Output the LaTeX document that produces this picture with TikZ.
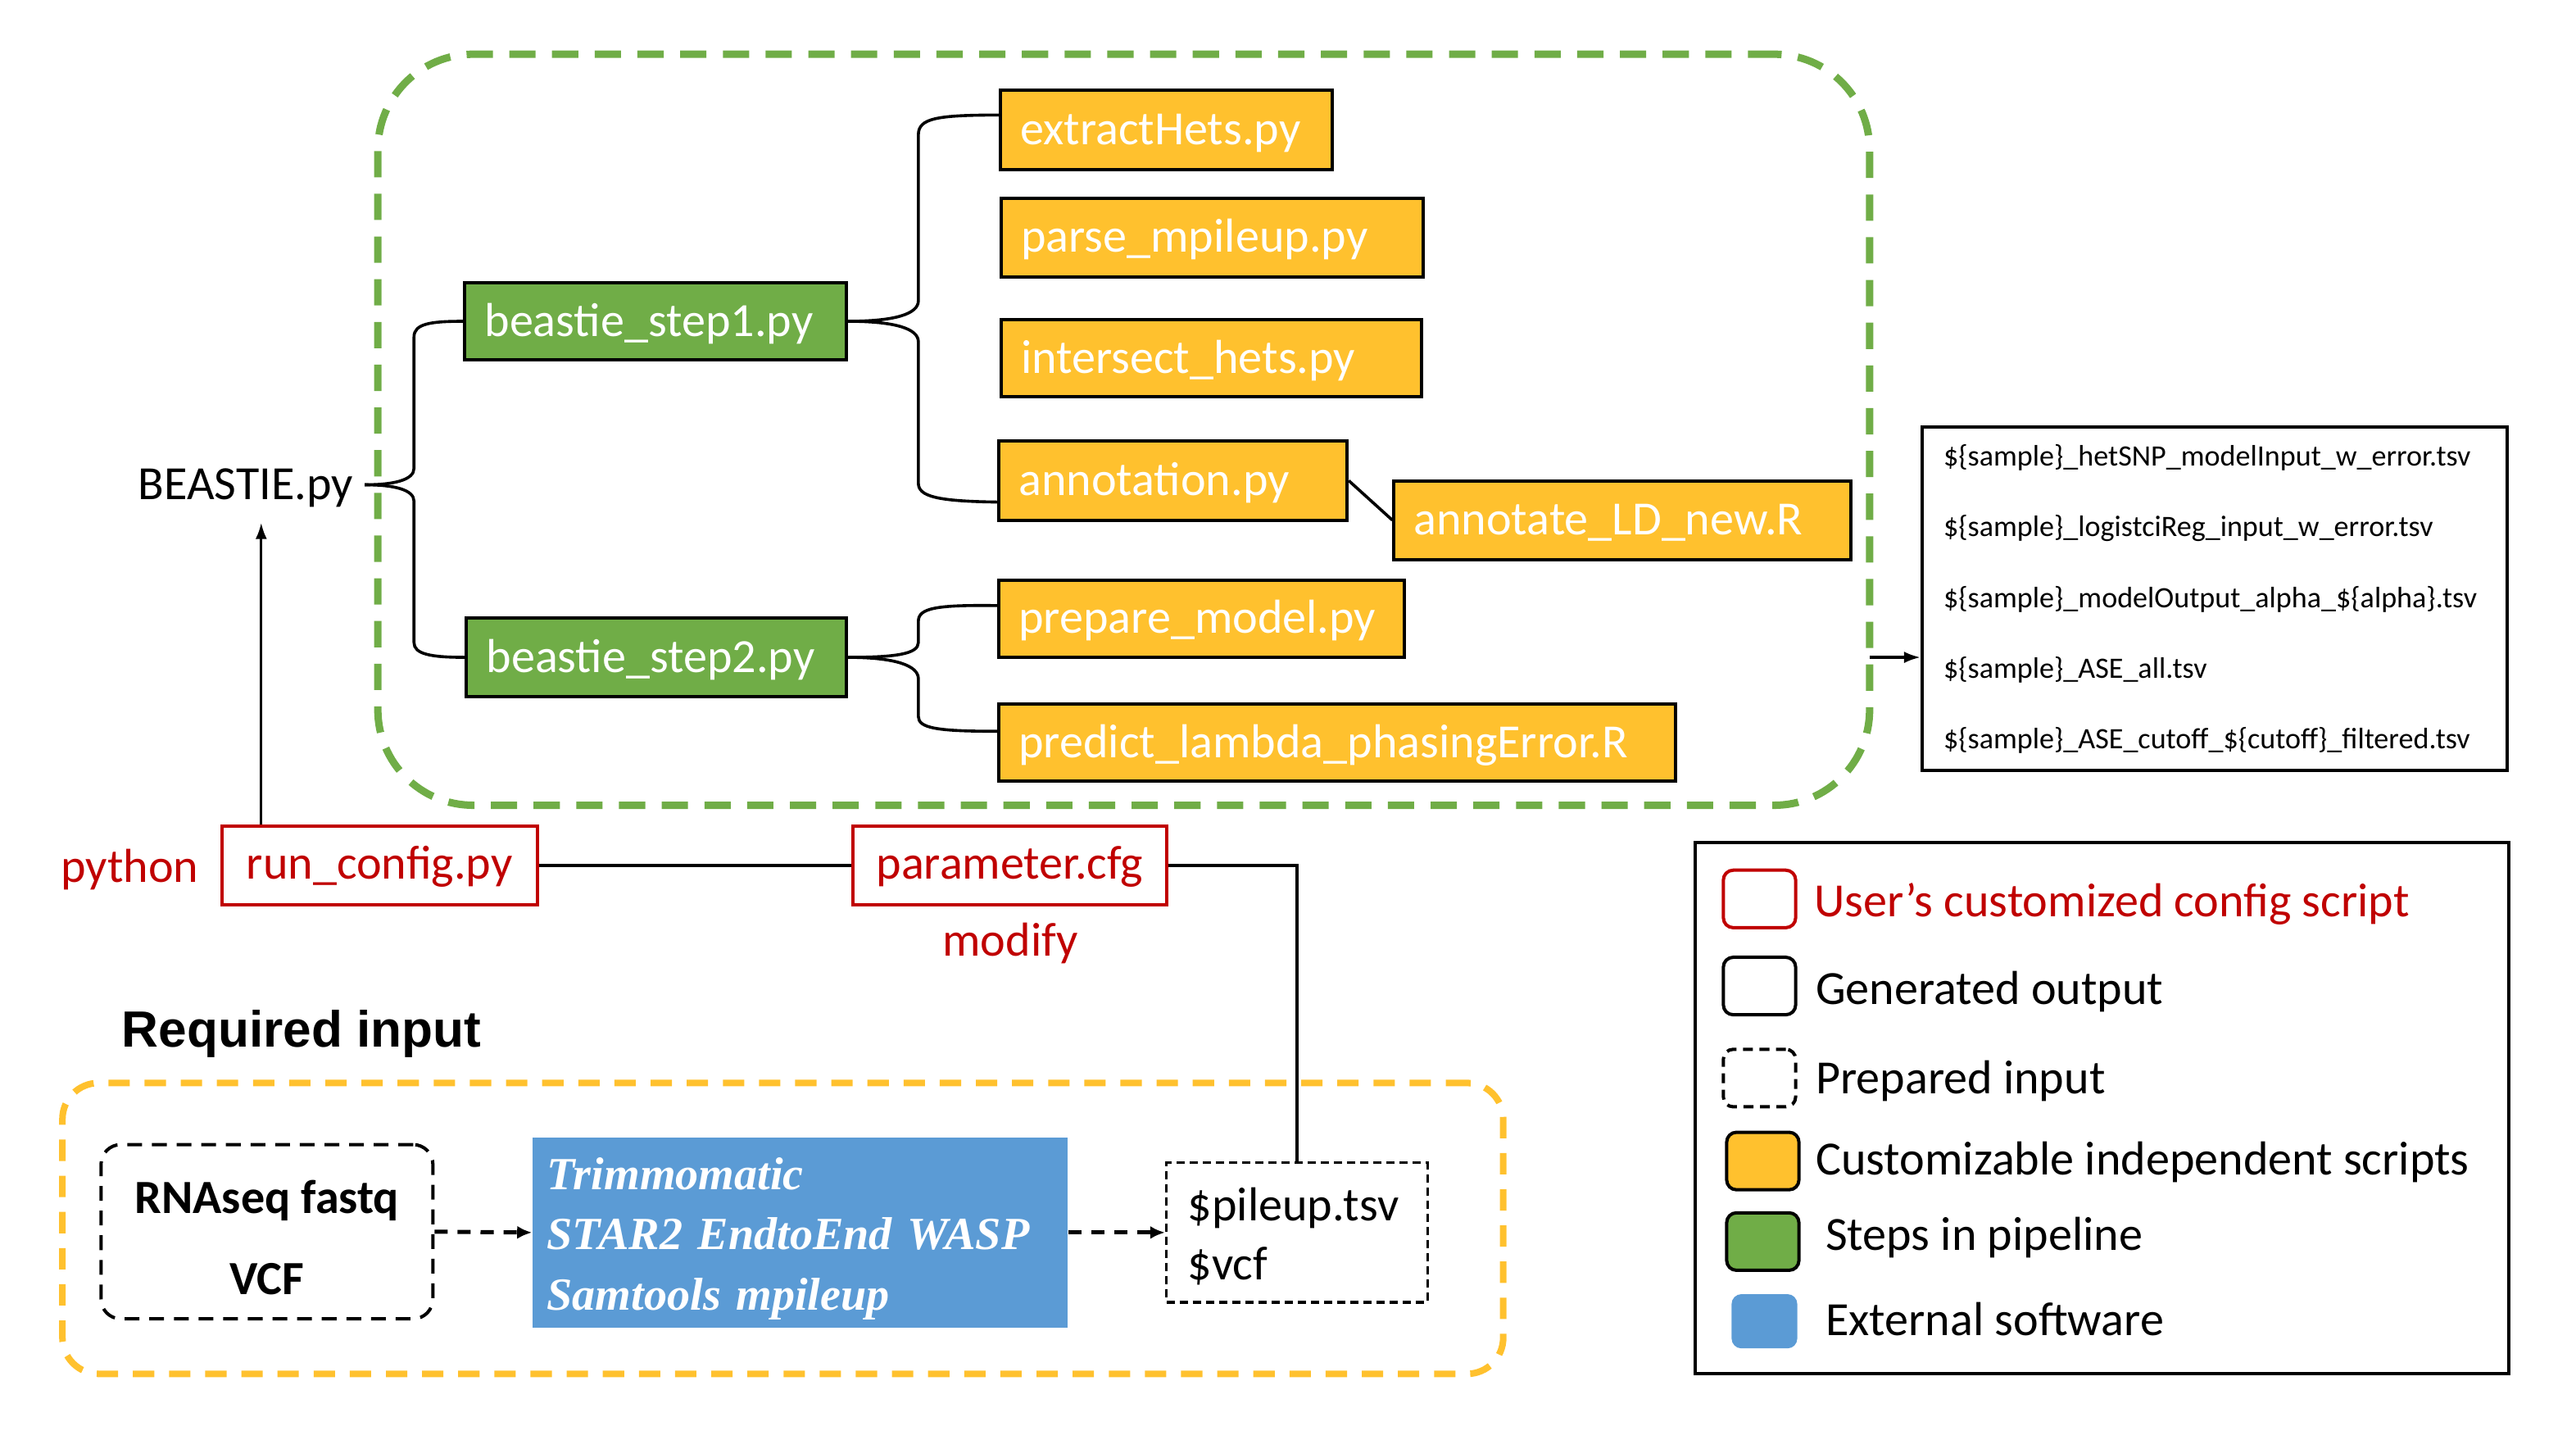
\documentclass[tikz,border=0pt]{standalone}
\usepackage{fontspec}
\setmainfont{Carlito}
\newfontfamily\timesf{Liberation Serif}
\newfontfamily\arialf{Liberation Sans}
\usetikzlibrary{arrows.meta}
\definecolor{gr}{HTML}{70AD47}
\definecolor{yl}{HTML}{FFC12E}
\definecolor{bl}{HTML}{5B9BD5}
\definecolor{rd}{HTML}{C00000}
\newcommand\fsz[2]{\fontsize{#1}{#2}\selectfont}
\begin{document}
\begin{tikzpicture}[x=1pt,y=-1pt,
 box/.style={draw=black, line width=2pt, text=white, font=\fsz{29}{35}, align=left, inner xsep=12pt, inner ysep=0pt,
             text height=24pt, text depth=6pt},
 gstep/.style={box, fill=gr},
 yscript/.style={box, fill=yl},
 conn/.style={line width=1.8pt, black},
 arr/.style={line width=1.6pt, -{Latex[length=10pt,width=7pt]}},
 darr/.style={line width=2.5pt, dash pattern=on 8pt off 6pt, -{Latex[length=9pt,width=8pt]}},
 rbox/.style={draw=rd, line width=2pt, text=rd, font=\fsz{29}{35}, inner sep=0pt, text height=23pt, text depth=6pt},
 lg/.style={minimum width=44pt, minimum height=35pt, inner sep=0pt, rounded corners=6pt, line width=2pt},
 lgt/.style={anchor=west, font=\fsz{29}{35}, inner sep=0pt}
]
\useasboundingbox (0,0) rectangle (1568,876);

% container boxes
\node[draw=gr, line width=4.5pt, dash pattern=on 16pt off 10pt, rounded corners=58pt,
      minimum width=908pt, minimum height=457pt, inner sep=0pt] (gbox) at (684,261.5) {};
\node[draw=yl, line width=4pt, dash pattern=on 13pt off 9pt, rounded corners=22pt,
      minimum width=877pt, minimum height=177pt, inner sep=0pt] (ybox) at (476.5,747.5) {};

% pipeline
\node[anchor=east, inner sep=0pt, font=\fsz{29}{35}] (bea) at (215,297) {BEASTIE.py};
\coordinate (bt) at (222,295);
\node[gstep, text width=208pt, inner xsep=12pt, minimum height=47pt] (s1) at (399,195.5) {beastie\_step1.py};
\node[gstep, text width=207pt, inner xsep=12pt, minimum height=48pt] (s2) at (399.5,400) {beastie\_step2.py};

\node[yscript, text width=178pt, minimum height=48pt] (ex) at (710,79) {extractHets.py};
\node[yscript, text width=233pt, minimum height=48pt] (pmp) at (738,144.5) {parse\_mpileup.py};
\node[yscript, text width=232pt, minimum height=47pt] (ih) at (737.5,218) {intersect\_hets.py};
\node[yscript, text width=188pt, minimum height=48pt] (an) at (714,292.5) {annotation.py};
\node[yscript, text width=254pt, minimum height=48pt] (ld) at (987.5,316.5) {annotate\_LD\_new.R};
\node[yscript, text width=223pt, minimum height=47pt] (pm) at (731.5,376.5) {prepare\_model.py};
\node[yscript, text width=388pt, minimum height=47pt] (pl) at (814,452) {predict\_lambda\_phasingError.R};

% braces
\draw[conn] (s1.west) .. controls (262,195.5) and (252,197) .. (252,205) -- (252,285)
            .. controls (252,292) and (240,295) .. (bt);
\draw[conn] (bt) .. controls (240,295) and (252,298) .. (252,305) -- (252,391)
            .. controls (252,398) and (262,400) .. (s2.west);

\draw[conn] ([yshift=9pt]ex.west) .. controls (570,70) and (559,72) .. (559,82) -- (559,183)
            .. controls (559,191) and (545,195.5) .. (s1.east);
\draw[conn] (s1.east) .. controls (545,195.5) and (559,200) .. (559,208) -- (559,294)
            .. controls (559,302) and (570,305) .. ([yshift=-13pt]an.west);

\draw[conn] ([yshift=8pt]pm.west) .. controls (570,368) and (559,370) .. (559,378) -- (559,391)
            .. controls (559,398) and (545,400) .. (s2.east);
\draw[conn] (s2.east) .. controls (545,400) and (559,405) .. (559,413) -- (559,436)
            .. controls (559,443) and (570,445) .. ([yshift=7pt]pl.west);

\draw[conn] (an.east) -- (ld.west);

% output
\node[draw, line width=2pt, text width=330pt, inner xsep=13pt, minimum height=209pt, align=left,
      font=\fsz{18}{43}] (out) at (1348,364.5)
  {\$\{sample\}\_hetSNP\_modelInput\_w\_error.tsv\\
   \$\{sample\}\_logistciReg\_input\_w\_error.tsv\\
   \$\{sample\}\_modelOutput\_alpha\_\$\{alpha\}.tsv\\
   \$\{sample\}\_ASE\_all.tsv\\
   \$\{sample\}\_ASE\_cutoff\_\$\{cutoff\}\_filtered.tsv};
\coordinate (ga) at (1138,400);
\draw[arr] (ga) -- (ga -| out.west);

% config
\node[rbox, minimum width=192pt, minimum height=48pt] (rc) at (231,526.5) {run\_config.py};
\node[rbox, minimum width=191pt, minimum height=48pt] (pc) at (614.5,526.5) {parameter.cfg};
\node[text=rd, inner sep=0pt, font=\fsz{29}{35}] (py) at (79,529) {python};
\node[text=rd, inner sep=0pt, font=\fsz{29}{35}] (mo) at (615,574) {modify};
\coordinate (bb) at (159,318);
\draw[arr] (rc.north -| bb) -- (bb);
\draw[conn] (rc.east) -- (pc.west);

% required input
\node[anchor=base west, inner sep=0pt, font=\arialf\bfseries\fsz{31}{35}] (req) at (74,637) {Required input};
\node[draw, line width=2pt, dash pattern=on 9pt off 6pt, rounded corners=12pt, minimum width=202pt,
      minimum height=106pt, inner sep=0pt, align=center, font=\bfseries\fsz{29}{49.5}] (rn) at (162.5,749.5)
  {\rule{0pt}{27pt}RNAseq fastq\\VCF};
\node[fill=bl, text=white, text width=308pt, inner xsep=9pt, inner ysep=0pt, minimum height=116pt, align=left,
      font=\timesf\bfseries\itshape\fsz{28}{36.5}] (blu) at (487,750)
  {\rule{0pt}{27pt}Trimmomatic\\STAR2 EndtoEnd WASP\\Samtools mpileup};
\node[draw, line width=1.8pt, dash pattern=on 5pt off 3pt, text width=133pt, inner xsep=13pt, inner ysep=0pt,
      minimum height=85pt, align=left, font=\fsz{29}{36}] (pu) at (789.5,750)
  {\rule{0pt}{25pt}\$pileup.tsv\\\$vcf};
\draw[darr] (rn.east) -- (blu.west);
\draw[darr] (blu.east) -- (pu.west);
\draw[conn] (pc.east) -| (pu.north);

% legend
\node[draw, line width=2pt, minimum width=495pt, minimum height=323.5pt, inner sep=0pt] (leg) at (1279.5,674.25) {};
\node[lg, draw=rd] (l1) at (1071,547) {};
\node[lg, draw=black] (l2) at (1071,600) {};
\node[lg, draw=black, dash pattern=on 6pt off 4pt] (l3) at (1071,656) {};
\node[lg, draw=black, fill=yl] (l4) at (1073,706.5) {};
\node[lg, draw=black, fill=gr] (l5) at (1073,755.5) {};
\node[lg, fill=bl, minimum width=40pt, minimum height=33pt] (l6) at (1074,804) {};
\node[lgt, text=rd] (t1) at (1104,550) {User’s customized config script};
\node[lgt] (t2) at (1105,603.5) {Generated output};
\node[lgt] (t3) at (1105,658) {Prepared input};
\node[lgt] (t4) at (1105,707) {Customizable independent scripts};
\node[lgt] (t5) at (1111,753) {Steps in pipeline};
\node[lgt] (t6) at (1111,802.5) {External software};
\end{tikzpicture}
\end{document}
